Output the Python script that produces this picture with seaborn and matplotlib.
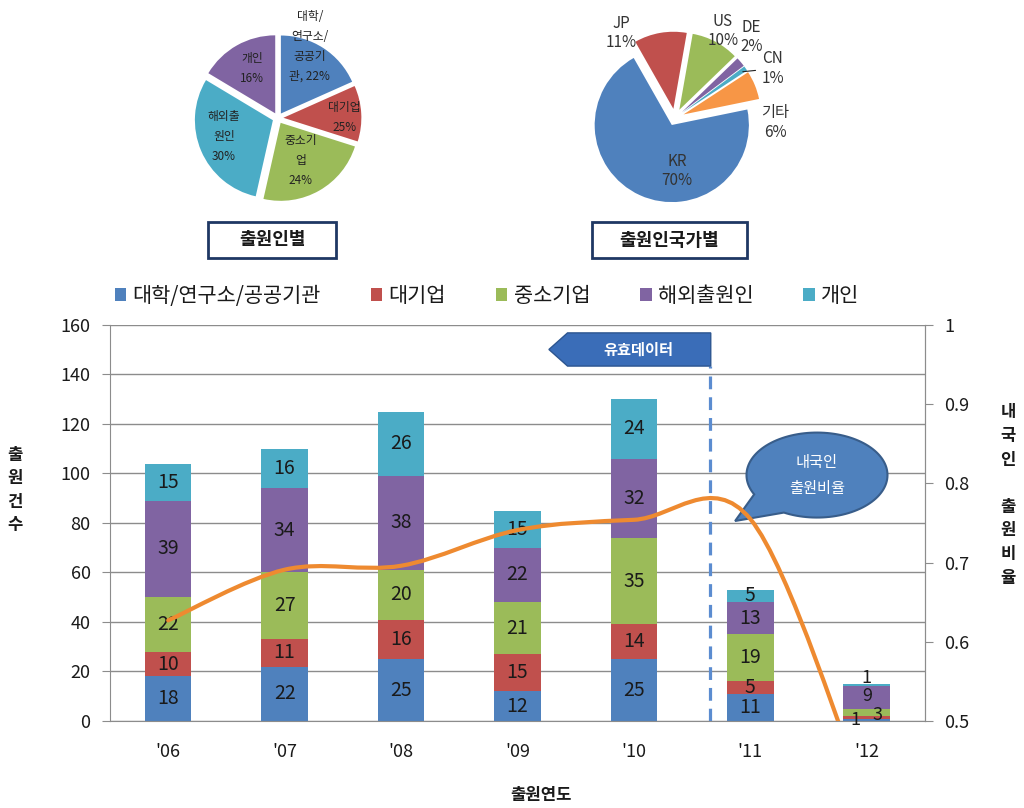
import numpy as np
import matplotlib
matplotlib.use("Agg")
import matplotlib.pyplot as plt
import seaborn as sns
from matplotlib.path import Path
from matplotlib.patches import PathPatch, Patch, Polygon, Rectangle

# ---- data ----
years = ["'06", "'07", "'08", "'09", "'10", "'11", "'12"]
univ = [18, 22, 25, 12, 25, 11, 1]
large = [10, 11, 16, 15, 14, 5, 1]
sme = [22, 27, 20, 21, 35, 19, 3]
foreign = [39, 34, 38, 22, 32, 13, 9]
person = [15, 16, 26, 15, 24, 5, 1]
domestic_ratio = [0.627, 0.691, 0.696, 0.741, 0.754, 0.755, 0.40]
series_names = ["대학/연구소/공공기관", "대기업", "중소기업", "해외출원인", "개인"]

# pie: by applicant type
app_sizes = [114, 72, 147, 187, 102]
app_labels = ["대학/\n연구소/\n공공기\n관, 22%", "대기업\n25%", "중소기\n업\n24%",
              "해외출\n원인\n30%", "개인\n16%"]
# pie: by applicant country
country_names = ["US", "DE", "CN", "기타", "KR", "JP"]
country_pct = [10, 2, 1, 6, 70, 11]

BLUE, RED, GREEN, PURPLE, TEAL, ORANGE = "#4F81BD", "#C0504D", "#9BBB59", "#8064A2", "#4BACC6", "#F79646"

sns.set_style("white")
plt.rcParams["font.family"] = ["Noto Sans CJK KR", "DejaVu Sans"]
plt.rcParams["text.color"] = "#1a1a1a"

fig = plt.figure(figsize=(10.24, 8.08), dpi=100)

# ---- pie 1 ----
ax_p1 = fig.add_axes([0.180, 0.738, 0.1828, 0.2317])
ax_p1.pie(app_sizes, colors=[BLUE, RED, GREEN, TEAL, PURPLE], startangle=90,
          counterclock=False, explode=[0.07] * 5, wedgeprops=dict(linewidth=0))
p1_pos = [(0.41, 0.92), (0.85, 0.01), (0.29, -0.54), (-0.69, -0.24), (-0.33, 0.64)]
for lab, (px, py) in zip(app_labels, p1_pos):
    ax_p1.text(px, py, lab, ha="center", va="center", fontsize=8.5, linespacing=1.7,
               color="#222222", clip_on=False)
ax_p1.set_xlim(-1.2, 1.2)
ax_p1.set_ylim(-1.2, 1.2)
ax_p1.axis("off")

# ---- pie 2 ----
ax_p2 = fig.add_axes([0.5688, 0.7395, 0.1807, 0.229])
ax_p2.pie(country_pct, colors=[GREEN, PURPLE, TEAL, ORANGE, BLUE, RED], startangle=80,
          counterclock=False, explode=[0.12, 0.12, 0.12, 0.12, 0.1, 0.12],
          wedgeprops=dict(linewidth=0))
p2_pos = [(0.62, 1.13), (0.99, 1.05), (1.27, 0.64), (1.30, -0.06), (0.03, -0.69), (-0.70, 1.10)]
for name, pct, (px, py) in zip(country_names, country_pct, p2_pos):
    txt = f"{name}\n{pct}%"
    if name == "CN":
        ax_p2.annotate(txt, xy=(0.88, 0.6), xytext=(px, py), ha="center", va="center",
                       fontsize=11, color="#333333", annotation_clip=False,
                       arrowprops=dict(arrowstyle="-", color="#222222", lw=0.8, shrinkA=2, shrinkB=0))
    else:
        ax_p2.text(px, py, txt, ha="center", va="center", fontsize=11, color="#333333",
                   clip_on=False, linespacing=1.2)
ax_p2.set_xlim(-1.2, 1.2)
ax_p2.set_ylim(-1.2, 1.2)
ax_p2.axis("off")

# title boxes under pies
for x0, w, label in [(208, 128, "출원인별"), (592, 155, "출원인국가별")]:
    fig.patches.append(Rectangle((x0 / 1024, (808 - 258) / 808), w / 1024, 36 / 808,
                                 transform=fig.transFigure, facecolor="white",
                                 edgecolor="#1F3864", linewidth=2))
    fig.text((x0 + w / 2) / 1024, (808 - 240) / 808, label, ha="center", va="center",
             fontsize=13, fontweight="bold")

# ---- stacked bars ----
ax = fig.add_axes([0.1074, 0.1077, 0.7959, 0.4901])
series = [univ, large, sme, foreign, person]
colors = [BLUE, RED, GREEN, PURPLE, TEAL]
bottom = np.zeros(len(years))
for name, vals, col in zip(series_names, series, colors):
    sns.barplot(x=years, y=vals, bottom=bottom, color=col, width=0.4, errorbar=None,
                saturation=1, ax=ax, zorder=2, linewidth=0, edgecolor="none")
    vals = np.array(vals)
    for i, v in enumerate(vals):
        dx, yc, fs = 0, bottom[i] + v / 2, 14
        if i == 6:
            # tiny segments of the last year: labels nudged like the original
            fs = 13
            if name == "대기업":
                continue
            if name == "대학/연구소/공공기관":
                dx, yc = -0.1, 0.2
            if name == "중소기업":
                dx, yc = 0.09, 2.6
            if name == "해외출원인":
                yc = bottom[i] + v / 2 + 0.7
            if name == "개인":
                yc = bottom[i] + v + 2.4
        ax.text(i + dx, yc, str(v), ha="center", va="center", fontsize=fs, color="#1a1a1a", zorder=5)
    bottom += vals

ax.set_xlim(-0.5, 6.5)
ax.set_ylim(0, 160)
ax.set_yticks(range(0, 161, 20))
ax.yaxis.grid(True, color="#8c8c8c", linewidth=1)
ax.set_axisbelow(True)
ax.set_xlabel("")
ax.set_ylabel("")
ax.set_xticks(range(len(years)))
ax.set_xticklabels(years)
ax.set_xticks(np.arange(-0.5, 7, 1), minor=True)
ax.tick_params(axis="x", which="major", length=0, pad=16, labelsize=13, labelcolor="#1a1a1a")
ax.tick_params(axis="x", which="minor", length=7, direction="out", color="#8c8c8c")
ax.tick_params(axis="y", length=6, direction="out", color="#8c8c8c", labelsize=13,
               labelcolor="#1a1a1a", pad=8)
for s in ["left", "bottom", "right"]:
    ax.spines[s].set_color("#8c8c8c")
ax.spines["top"].set_visible(False)

# 유효데이터 marker
ax.plot([4.65, 4.65], [0, 143.4], color="#5B8CD0", lw=2.3, dashes=(4, 2.5), zorder=3)
ax.add_patch(Polygon([(3.43, 156.8), (4.66, 156.8), (4.66, 143.4), (3.43, 143.4), (3.27, 150.1)],
                     closed=True, facecolor="#3A6DB8", edgecolor="#2C5590", lw=1, zorder=4))
ax.text(4.04, 150.1, "유효데이터", ha="center", va="center", fontsize=11, color="white",
        fontweight="bold", zorder=5)

# speech bubble
cx, cy, a, b = 0.8675, 0.621, 0.0865, 0.1073
t = np.radians(np.linspace(242, 567, 120))
verts = list(zip(cx + a * np.cos(t), cy + b * np.sin(t))) + [(0.767, 0.505)]
verts.append(verts[0])
codes = [Path.MOVETO] + [Path.LINETO] * (len(verts) - 2) + [Path.CLOSEPOLY]
ax.add_patch(PathPatch(Path(verts, codes), transform=ax.transAxes, facecolor=BLUE,
                       edgecolor="#385D8A", lw=1.5, zorder=4, clip_on=False))
ax.text(cx, cy, "내국인\n출원비율", transform=ax.transAxes, ha="center", va="center",
        fontsize=11, color="white", linespacing=1.7, zorder=5)

# ---- domestic ratio line (smoothed) ----
ax2 = ax.twinx()
ax2.set_ylim(0.5, 1.0)
ax2.set_yticks([0.5, 0.6, 0.7, 0.8, 0.9, 1.0])
ax2.set_yticklabels(["0.5", "0.6", "0.7", "0.8", "0.9", "1"])
ax2.tick_params(axis="y", length=6, direction="out", color="#8c8c8c", labelsize=13,
                labelcolor="#1a1a1a", pad=8)
for s in ["left", "bottom", "top"]:
    ax2.spines[s].set_visible(False)
ax2.spines["right"].set_color("#8c8c8c")
ax2.grid(False)

xs = np.arange(len(domestic_ratio), dtype=float)
ys = np.array(domestic_ratio)
pts = np.column_stack([xs, ys])
ext = np.vstack([pts[:1], pts, pts[-1:]])
line_verts = [tuple(pts[0])]
line_codes = [Path.MOVETO]
for i in range(len(pts) - 1):
    c1 = ext[i + 1] + (ext[i + 2] - ext[i]) / 6
    c2 = ext[i + 2] - (ext[i + 3] - ext[i + 1]) / 6
    line_verts += [tuple(c1), tuple(c2), tuple(pts[i + 1])]
    line_codes += [Path.CURVE4] * 3
ax2.add_patch(PathPatch(Path(line_verts, line_codes), facecolor="none", edgecolor="#EE8A30",
                        lw=3, zorder=6, capstyle="round"))

# ---- legend & axis titles ----
handles = [Patch(facecolor=c, edgecolor="none") for c in colors]
fig.legend(handles, series_names, loc="center", bbox_to_anchor=(487 / 1024, (808 - 296) / 808),
           ncol=5, frameon=False, fontsize=15, handlelength=0.55, handleheight=0.55,
           handletextpad=0.3, columnspacing=2.4)
fig.text(15 / 1024, (808 - 490) / 808, "출\n원\n건\n수", ha="center", va="center",
         fontsize=12, fontweight="bold", linespacing=1.4)
fig.text(1008 / 1024, (808 - 495) / 808, "내\n국\n인\n\n출\n원\n비\n율", ha="center",
         va="center", fontsize=12, fontweight="bold", linespacing=1.4)
fig.text(541 / 1024, (808 - 795) / 808, "출원연도", ha="center", va="center",
         fontsize=12, fontweight="bold")

plt.savefig("out.png", dpi=100)
